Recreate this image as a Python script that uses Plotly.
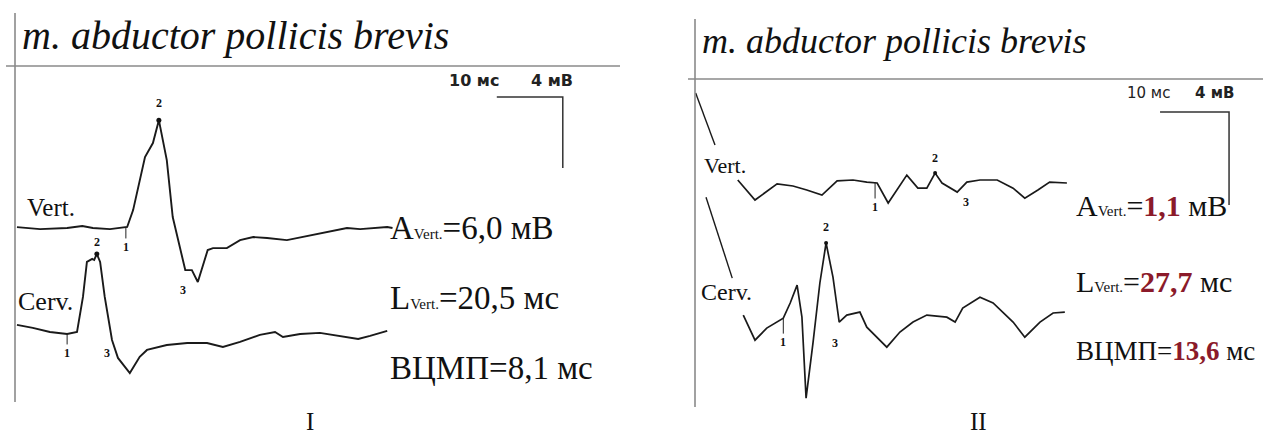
import plotly.graph_objects as go

W, H = 1263, 436

# ---------------- Panel I data (time in ms, amplitude in mV) ----------------
i_vert_t = [0.3, 3.8, 7.9, 10.2, 11.8, 14.4, 17.0, 17.9, 19.7, 20.9, 21.8, 23.0, 23.9, 25.8, 26.8, 27.7,
            29.2, 30.0, 32.1, 34.1, 36.1, 38.2, 41.2, 44.2, 47.3, 50.3, 52.3, 56.4, 57.2]
i_vert_v = [0.05, -0.06, 0.0, 0.11, 0.0, -0.06, 0.06, 1.01, 4.0, 4.79, 6.08, 3.83, 0.62, -2.37, -2.37, -3.04,
            -1.24, -1.13, -1.13, -0.68, -0.51, -0.56, -0.68, -0.45, -0.23, 0.0, -0.06, 0.06, 0.0]
i_cerv_t = [0.3, 2.7, 5.3, 7.9, 9.4, 10.3, 10.9, 11.7, 12.0, 12.4, 12.9, 13.6, 14.7, 15.6, 17.4, 18.9, 20.0,
            23.0, 26.1, 29.1, 31.5, 34.1, 37.1, 39.4, 40.6, 43.2, 46.2, 49.2, 52.0, 53.8, 56.4]
i_cerv_v = [0.17, 0.0, -0.23, -0.34, -0.23, 1.75, 3.72, 3.89, 3.83, 4.17, 3.72, 1.75, -0.68, -1.69, -2.54,
            -1.63, -1.24, -0.96, -0.85, -0.85, -1.07, -0.79, -0.39, -0.23, -0.51, -0.34, -0.28, -0.45, -0.62,
            -0.45, -0.17]
i_vert_marks_t = [16.8, 21.8, 25.5]
i_vert_marks_v = [0.06, 6.08, -2.37]
i_cerv_marks_t = [7.9, 12.4, 13.9]
i_cerv_marks_v = [-0.34, 4.17, -0.68]

# ---------------- Panel II data ----------------
ii_vert_t = [6.2, 8.7, 11.9, 14.2, 16.2, 18.4, 20.6, 22.9, 24.9, 26.4, 28.0, 30.7, 32.3, 33.6, 34.8, 35.8,
             38.0, 39.4, 41.3, 43.8, 46.1, 47.8, 49.7, 51.4, 53.9]
ii_vert_v = [0.13, -0.73, -0.04, -0.13, -0.30, -0.52, 0.09, 0.13, 0.04, 0.0, -0.86, 0.34, -0.22, -0.22, 0.43,
             0.0, -0.39, 0.04, 0.13, 0.13, -0.22, -0.65, -0.30, 0.04, 0.0]
ii_vert_art_t = [0.1, 2.9]
ii_vert_art_v = [3.87, 1.63]
ii_cerv_t = [7.0, 8.7, 10.4, 12.8, 13.8, 14.8, 15.5, 16.1, 17.1, 18.1, 19.0, 20.0, 20.9, 22.0, 23.9, 24.9,
             27.8, 29.7, 31.6, 33.6, 36.5, 37.7, 38.8, 41.3, 43.2, 46.1, 47.8, 50.0, 51.9, 53.6]
ii_cerv_v = [0.13, -0.95, -0.43, 0.0, 0.65, 1.42, 0.04, -3.44, -1.08, 1.51, 3.23, 1.76, -0.17, 0.13, 0.26,
             -0.39, -1.25, -0.60, -0.17, 0.13, 0.04, -0.17, 0.43, 0.90, 0.65, -0.17, -0.82, -0.17, 0.22, 0.26]
ii_cerv_art_t = [1.6, 5.4]
ii_cerv_art_v = [5.2, 1.72]
ii_vert_marks_t = [26.1, 34.8, 39.3]
ii_vert_marks_v = [0.0, 0.43, 0.04]
ii_cerv_marks_t = [12.8, 19.0, 20.3]
ii_cerv_marks_v = [0.0, 3.23, -0.17]

# scale bars
scale_ms = 10
scale_mv = 4

# measurement texts
i_vals = ["6,0", "20,5", "8,1"]
ii_vals = ["1,1", "27,7", "13,6"]

# ---------------- display placement (layout, not data) ----------------
I_CERV_OFF = -5.63
II_CERV_OFF = -5.81
I_BAR = (73.0, 7.38)
II_BAR = (67.4, 3.05)

fig = go.Figure()


def add_trace(t, v, off, xa, ya, width=1.9):
    fig.add_trace(go.Scatter(x=t, y=[a + off for a in v], mode="lines",
                             line=dict(color="#1a1a1a", width=width),
                             xaxis=xa, yaxis=ya, hoverinfo="skip", showlegend=False))


add_trace(i_vert_t, i_vert_v, 0, "x", "y")
add_trace(i_cerv_t, i_cerv_v, I_CERV_OFF, "x", "y")
add_trace(ii_vert_t, ii_vert_v, 0, "x2", "y2", 1.7)
add_trace(ii_cerv_t, ii_cerv_v, II_CERV_OFF, "x2", "y2", 1.7)
add_trace(ii_vert_art_t, ii_vert_art_v, 0, "x2", "y2", 1.4)
add_trace(ii_cerv_art_t, ii_cerv_art_v, II_CERV_OFF, "x2", "y2", 1.4)

# scale bars
for (bx, by), xa, ya in [(I_BAR, "x", "y"), (II_BAR, "x2", "y2")]:
    fig.add_trace(go.Scatter(x=[bx, bx + scale_ms, bx + scale_ms], y=[by, by, by - scale_mv],
                             mode="lines", line=dict(color="#333", width=1.5),
                             xaxis=xa, yaxis=ya, hoverinfo="skip", showlegend=False))

# peak dots
fig.add_trace(go.Scatter(x=[i_vert_marks_t[1], i_cerv_marks_t[1]],
                         y=[i_vert_marks_v[1], i_cerv_marks_v[1] + I_CERV_OFF],
                         mode="markers", marker=dict(size=5, color="#111"),
                         xaxis="x", yaxis="y", hoverinfo="skip", showlegend=False))
fig.add_trace(go.Scatter(x=[ii_vert_marks_t[1], ii_cerv_marks_t[1]],
                         y=[ii_vert_marks_v[1], ii_cerv_marks_v[1] + II_CERV_OFF],
                         mode="markers", marker=dict(size=4, color="#111"),
                         xaxis="x2", yaxis="y2", hoverinfo="skip", showlegend=False))

# marker numbers (with small tick lines for 1 and 3)
num_font = dict(family="Liberation Serif", size=12, color="#111")


def num_labels(ts, vs, off, xa, ya, dys, ticks):
    for k, (t, v, dy, tk) in enumerate(zip(ts, vs, dys, ticks)):
        if tk:
            fig.add_annotation(x=t, y=v + off, xref=xa, yref=ya, text="<b>%d</b>" % (k + 1),
                               showarrow=True, arrowhead=0, arrowwidth=1, arrowcolor="#222",
                               ax=0, ay=-dy, standoff=0, startstandoff=0, font=num_font)
        else:
            fig.add_annotation(x=t, y=v + off, xref=xa, yref=ya, text="<b>%d</b>" % (k + 1),
                               showarrow=False, yshift=dy, font=num_font)


num_labels(i_vert_marks_t, i_vert_marks_v, 0, "x", "y", [-20, 17, -20], [True, False, False])
num_labels(i_cerv_marks_t, i_cerv_marks_v, I_CERV_OFF, "x", "y", [-19, 12, -13], [True, False, False])
num_labels(ii_vert_marks_t, ii_vert_marks_v, 0, "x2", "y2", [-24, 15, -20], [True, False, False])
num_labels(ii_cerv_marks_t, ii_cerv_marks_v, II_CERV_OFF, "x2", "y2", [-24, 16, -21], [True, False, False])


def px(x):
    return x / W


def py(y):
    return 1 - y / H


def text(x, y, s, size, family="Liberation Serif", color="#111", xanchor="left"):
    fig.add_annotation(x=px(x), y=py(y), xref="paper", yref="paper", text=s, showarrow=False,
                       xanchor=xanchor, yanchor="middle", font=dict(family=family, size=size, color=color))


# titles
text(20, 36, "<i>m. abductor pollicis brevis</i>", 40)
text(700, 41, "<i>m. abductor pollicis brevis</i>", 36)
# scale texts
text(447, 80, "<b>10 мс</b>", 16, family="DejaVu Sans", color="#222")
text(529, 80, "<b>4 мВ</b>", 16, family="DejaVu Sans", color="#222")
text(1125, 93, "10 мс", 15, family="DejaVu Sans", color="#222")
text(1193, 93, "<b>4 мВ</b>", 15, family="DejaVu Sans", color="#222")
# channel labels
text(25, 207, "Vert.", 25)
text(16, 301, "Cerv.", 26)
text(702, 165, "Vert.", 22)
text(699, 292, "Cerv.", 24)
# measurements
sub = "<span style='font-size:15px'>Vert.</span>"
text(388, 228, "A%s=%s мВ" % (sub, i_vals[0]), 33)
text(388, 298, "L%s=%s мс" % (sub, i_vals[1]), 33)
text(388, 368, "ВЦМП=%s мс" % i_vals[2], 33)
red = "#8b1a2a"
text(1074, 205, "A%s=<b><span style='color:%s'>%s</span></b> мВ" % (sub, red, ii_vals[0]), 30)
text(1074, 281, "L%s=<b><span style='color:%s'>%s</span></b> мс" % (sub, red, ii_vals[1]), 30)
text(1074, 351, "ВЦМП=<b><span style='color:%s'>%s</span></b> мс" % (red, ii_vals[2]), 27)
# roman numerals
text(310, 421, "I", 25, xanchor="center")
text(978, 421, "II", 25, xanchor="center")

# frame lines (decoration)
shapes = []
for x0, x1, y0, y1 in [(15, 15, 13, 402), (6, 620, 66, 66), (695, 695, 19, 407), (688, 1263, 79, 79)]:
    shapes.append(dict(type="line", xref="paper", yref="paper", x0=px(x0), x1=px(x1), y0=py(y0), y1=py(y1),
                       line=dict(color="#8a8a8a", width=1.6)))
fig.update_layout(shapes=shapes)

ax = dict(visible=False, showgrid=False, zeroline=False, fixedrange=True)
fig.update_layout(
    width=W, height=H, margin=dict(l=0, r=0, t=0, b=0),
    paper_bgcolor="white", plot_bgcolor="white",
    xaxis=dict(ax, domain=[0, 1], range=[-2.27, 189.09]),
    yaxis=dict(ax, domain=[0, 1], range=[-11.72, 12.85]),
    xaxis2=dict(ax, domain=[0, 1], range=[-100.72, 82.32], overlaying="x"),
    yaxis2=dict(ax, domain=[0, 1], range=[-10.88, 7.87], overlaying="y", anchor="x2"),
    showlegend=False,
)

fig.write_html("out.html", config={"displayModeBar": False},
               post_script="document.body.style.margin='0';document.body.style.overflow='hidden';")
